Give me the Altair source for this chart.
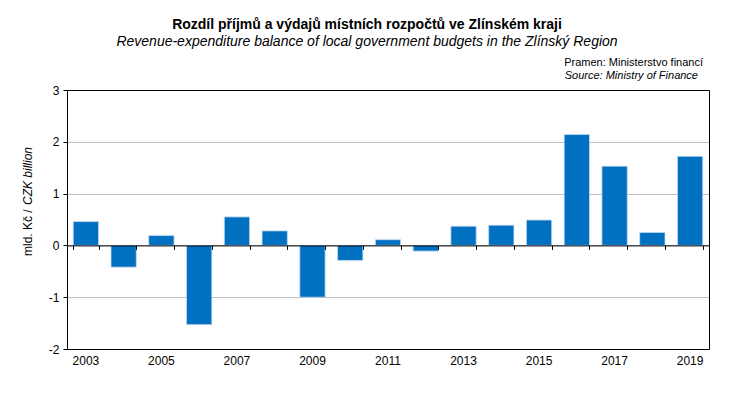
import altair as alt
import pandas as pd

years = [str(y) for y in range(2003, 2020)]
values = [0.46, -0.42, 0.19, -1.53, 0.55, 0.28, -1.0, -0.29, 0.11, -0.11,
          0.37, 0.39, 0.49, 2.14, 1.53, 0.25, 1.72]

title_cz = "Rozdíl příjmů a výdajů místních rozpočtů ve Zlínském kraji"
title_en = "Revenue-expenditure balance of local government budgets in the Zlínský Region"
source_cz = "Pramen: Ministerstvo financí"
source_en = "Source: Ministry of Finance"
y_title_cz = "mld. Kč / "
y_title_en = "CZK billion"

df = pd.DataFrame({"year": years, "value": values})
W, H = 642, 259
FONT = "Liberation Sans"

xscale = alt.Scale(paddingInner=0.33, paddingOuter=0.165)
yscale = alt.Scale(domain=[-2, 3], nice=False)

bars = alt.Chart(df).mark_bar(color="#0070C0", stroke="#C6D9F1", strokeWidth=0.8).encode(
    x=alt.X("year:O", scale=xscale, title=None,
            axis=alt.Axis(orient="bottom", labelAngle=0, domain=True, domainColor="#000",
                          ticks=False, labelPadding=6, labelFontSize=12,
                          labelColor="#000", labelFont=FONT,
                          labelExpr="parseInt(datum.value) % 2 == 1 ? datum.label : ''")),
    y=alt.Y("value:Q", scale=yscale, title=None,
            axis=alt.Axis(values=[-2, -1, 0, 1, 2, 3], gridColor="#C0C0C0",
                          domain=True, domainColor="#000", tickColor="#000", tickSize=4,
                          labelFontSize=12, labelColor="#000", labelFont=FONT,
                          labelExpr="toString(datum.value)",
                          labelPadding=4)),
)

zero_axis = alt.Chart(df).mark_bar(opacity=0).encode(
    x=alt.X("year:O", scale=xscale, title=None,
            axis=alt.Axis(orient="bottom", offset=-H * 2 / 5, labels=False,
                          domain=True, domainColor="#000", domainWidth=1,
                          ticks=True, tickBand="extent", tickSize=4, tickColor="#000",
                          zindex=1)),
    y=alt.Y("value:Q", scale=yscale, axis=None),
)

frame = alt.Chart(df).mark_bar(opacity=0).encode(
    x=alt.X("year:O", scale=xscale, title=None,
            axis=alt.Axis(orient="top", labels=False, ticks=False, grid=False,
                          domain=True, domainColor="#000", zindex=1)),
    y=alt.Y("value:Q", scale=yscale, title=None,
            axis=alt.Axis(orient="right", labels=False, ticks=False, grid=False,
                          domain=True, domainColor="#000", zindex=1)),
)

src = pd.DataFrame({"t1": [source_cz], "t2": [source_en],
                    "y1": [y_title_cz], "y2": [y_title_en]})
s1 = alt.Chart(src).mark_text(align="right", baseline="alphabetic", font=FONT,
                              fontSize=11, color="#000").encode(
    text="t1:N", x=alt.value(W - 6), y=alt.value(-24))
s2 = alt.Chart(src).mark_text(align="right", baseline="alphabetic", font=FONT,
                              fontSize=11, fontStyle="italic", color="#000").encode(
    text="t2:N", x=alt.value(W - 11), y=alt.value(-11))
yt1 = alt.Chart(src).mark_text(align="left", baseline="alphabetic", angle=270, font=FONT,
                               fontSize=12, color="#000").encode(
    text="y1:N", x=alt.value(-35.5), y=alt.value(166))
yt2 = alt.Chart(src).mark_text(align="left", baseline="alphabetic", angle=270, font=FONT,
                               fontSize=12, fontStyle="italic", color="#000").encode(
    text="y2:N", x=alt.value(-35.5), y=alt.value(115))

chart = alt.layer(bars, zero_axis, frame, s1, s2, yt1, yt2).resolve_axis(
    x="independent", y="independent").properties(
    width=W, height=H,
    autosize=alt.AutoSizeParams(type="none"),
    padding={"left": 59, "top": 82, "right": 21, "bottom": 36},
    title=alt.Title(title_cz, subtitle=title_en, anchor="middle", dx=-21,
                    offset=8, font=FONT, fontSize=14, fontWeight="bold", color="#000",
                    subtitleFont=FONT, subtitleFontSize=14, subtitleFontStyle="italic",
                    subtitleColor="#000", subtitlePadding=3),
).configure_view(strokeWidth=0).configure(background="white")

chart.save("out.html", embed_options={"renderer": "svg", "actions": False})
